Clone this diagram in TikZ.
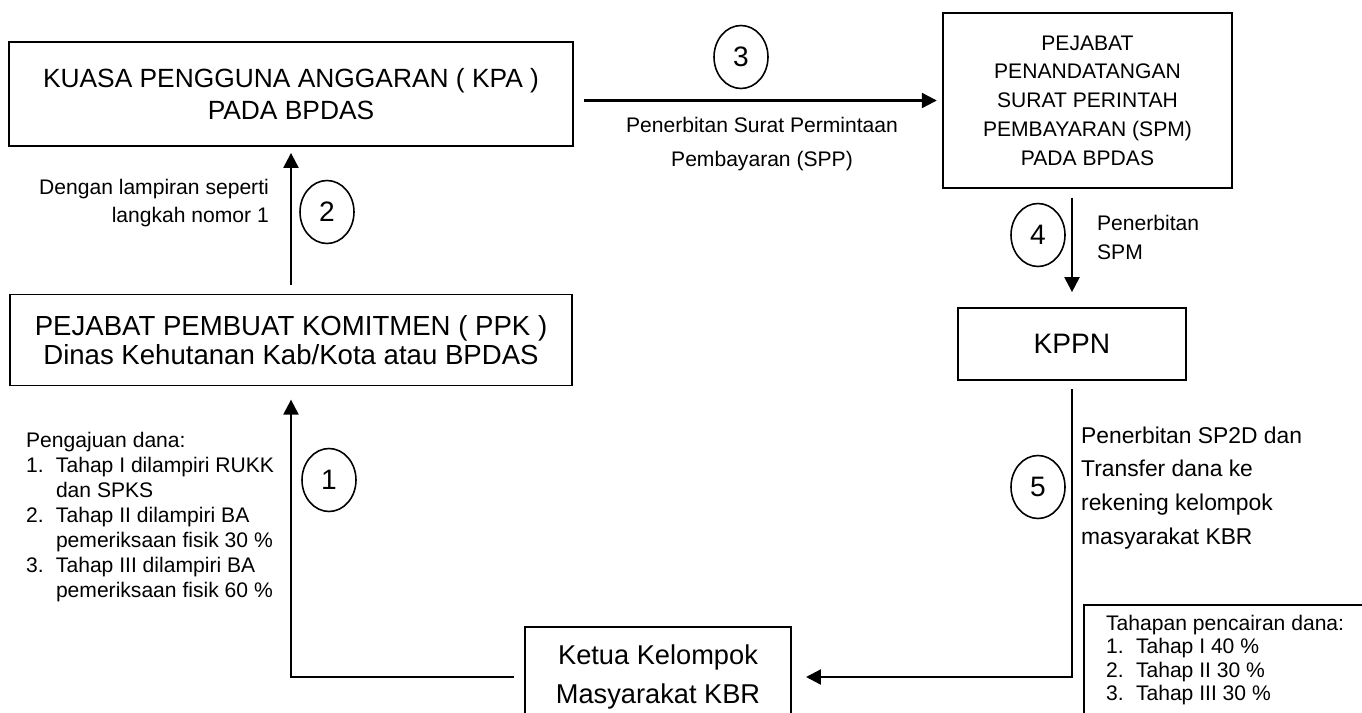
\documentclass[tikz,border=0pt]{standalone}
\usepackage{fontspec}
\setmainfont{Liberation Sans}
\usetikzlibrary{calc,positioning,shapes,arrows.meta}

\tikzset{
	box/.style={draw,line width=1.1pt,align=center,inner sep=0pt},
	nomor/.style={shape=ellipse,draw,line width=0.9pt,minimum width=1.08cm,minimum height=1.26cm,inner sep=0pt,font=\fontsize{16}{18}\selectfont},
	ket/.style={inner sep=0pt,font=\fontsize{12}{15}\selectfont}
}

\begin{document}
\begin{tikzpicture}[x=0.02cm,y=-0.02cm,line width=1.3pt,>={Triangle[length=8.5pt,width=8.5pt]}]
		\useasboundingbox (0,0) rectangle (1362,713);
		% kotak utama
		\node(kpa) [box,minimum width=11.28cm,minimum height=2.08cm,font=\fontsize{15}{18.2}\selectfont] at (291,94)
			{KUASA PENGGUNA ANGGARAN ( KPA )\\PADA BPDAS};
		\node(ppk) [box,minimum width=11.26cm,minimum height=1.82cm,font=\fontsize{15.7}{16.5}\selectfont] at (291,340)
			{PEJABAT PEMBUAT KOMITMEN ( PPK )\\Dinas Kehutanan Kab/Kota atau BPDAS};
		\node(spm) [box,minimum width=5.78cm,minimum height=3.5cm,font=\fontsize{12}{16.4}\selectfont] at (1087.5,100.5)
			{PEJABAT\\PENANDATANGAN\\SURAT PERINTAH\\PEMBAYARAN (SPM)\\PADA BPDAS};
		\node(kppn) [box,minimum width=4.56cm,minimum height=1.44cm,font=\fontsize{16}{18}\selectfont] at (1072,344) {KPPN};
		\node(ketua) [box,minimum width=5.32cm,minimum height=2cm,font=\fontsize{15.5}{22.5}\selectfont] at (658,677)
			{Ketua Kelompok\\Masyarakat KBR};
		\node(tahapan) [box,anchor=north west,minimum width=6cm,minimum height=3cm] at (1083,604) {};
		\node(cair) [ket,anchor=west,align=left,font=\fontsize{12}{13.2}\selectfont] at (1105,660)
			{Tahapan pencairan dana:\\
			 \makebox[17pt][l]{1.}Tahap I 40 \%\\
			 \makebox[17pt][l]{2.}Tahap II 30 \%\\
			 \makebox[17pt][l]{3.}Tahap III 30 \%};
		% alur
		\draw[->,shorten <=5pt,shorten >=3.4pt] (ppk.north) -- (kpa.south);
		\draw[->,shorten <=5.7pt,shorten >=3pt] (kpa.east |- spm.west) -- (spm.west);
		\draw[->,shorten <=5pt,shorten >=8.5pt] (kppn.north |- spm.south) -- (kppn.north);
		\draw[->,shorten <=4.5pt,shorten >=8pt] (kppn.south) |- (ketua.east);
		\draw[->,shorten <=6pt,shorten >=7.5pt] (ketua.west) -| (ppk.south);
		% nomor langkah
		\node(n1) [nomor] at (329,480) {1};
		\node(n2) [nomor] at (327,212) {2};
		\node(n3) [nomor] at (741,57) {3};
		\node(n4) [nomor] at (1038,235) {4};
		\node(n5) [nomor] at (1038,487) {5};
		% keterangan
		\node(k1) [ket,anchor=west,align=left,font=\fontsize{12}{14.3}\selectfont] at (25,517)
			{Pengajuan dana:\\
			 \makebox[17pt][l]{1.}Tahap I dilampiri RUKK\\
			 \hspace*{17pt}dan SPKS\\
			 \makebox[17pt][l]{2.}Tahap II dilampiri BA\\
			 \hspace*{17pt}pemeriksaan fisik 30 \%\\
			 \makebox[17pt][l]{3.}Tahap III dilampiri BA\\
			 \hspace*{17pt}pemeriksaan fisik 60 \%};
		\node(k2) [ket,anchor=east,align=right,font=\fontsize{12}{16}\selectfont] at (270,203)
			{Dengan lampiran seperti\\langkah nomor 1};
		\node(k3) [ket,align=center,font=\fontsize{12}{19}\selectfont] at (762,144)
			{Penerbitan Surat Permintaan\\Pembayaran (SPP)};
		\node(k4) [ket,anchor=west,align=left,font=\fontsize{12}{16.5}\selectfont] at (1096,237)
			{Penerbitan\\SPM};
		\node(k5) [ket,anchor=west,align=left,font=\fontsize{13}{19.3}\selectfont] at (1080,488)
			{Penerbitan SP2D dan\\Transfer dana ke\\rekening kelompok\\masyarakat KBR};
	\end{tikzpicture}
\end{document}
